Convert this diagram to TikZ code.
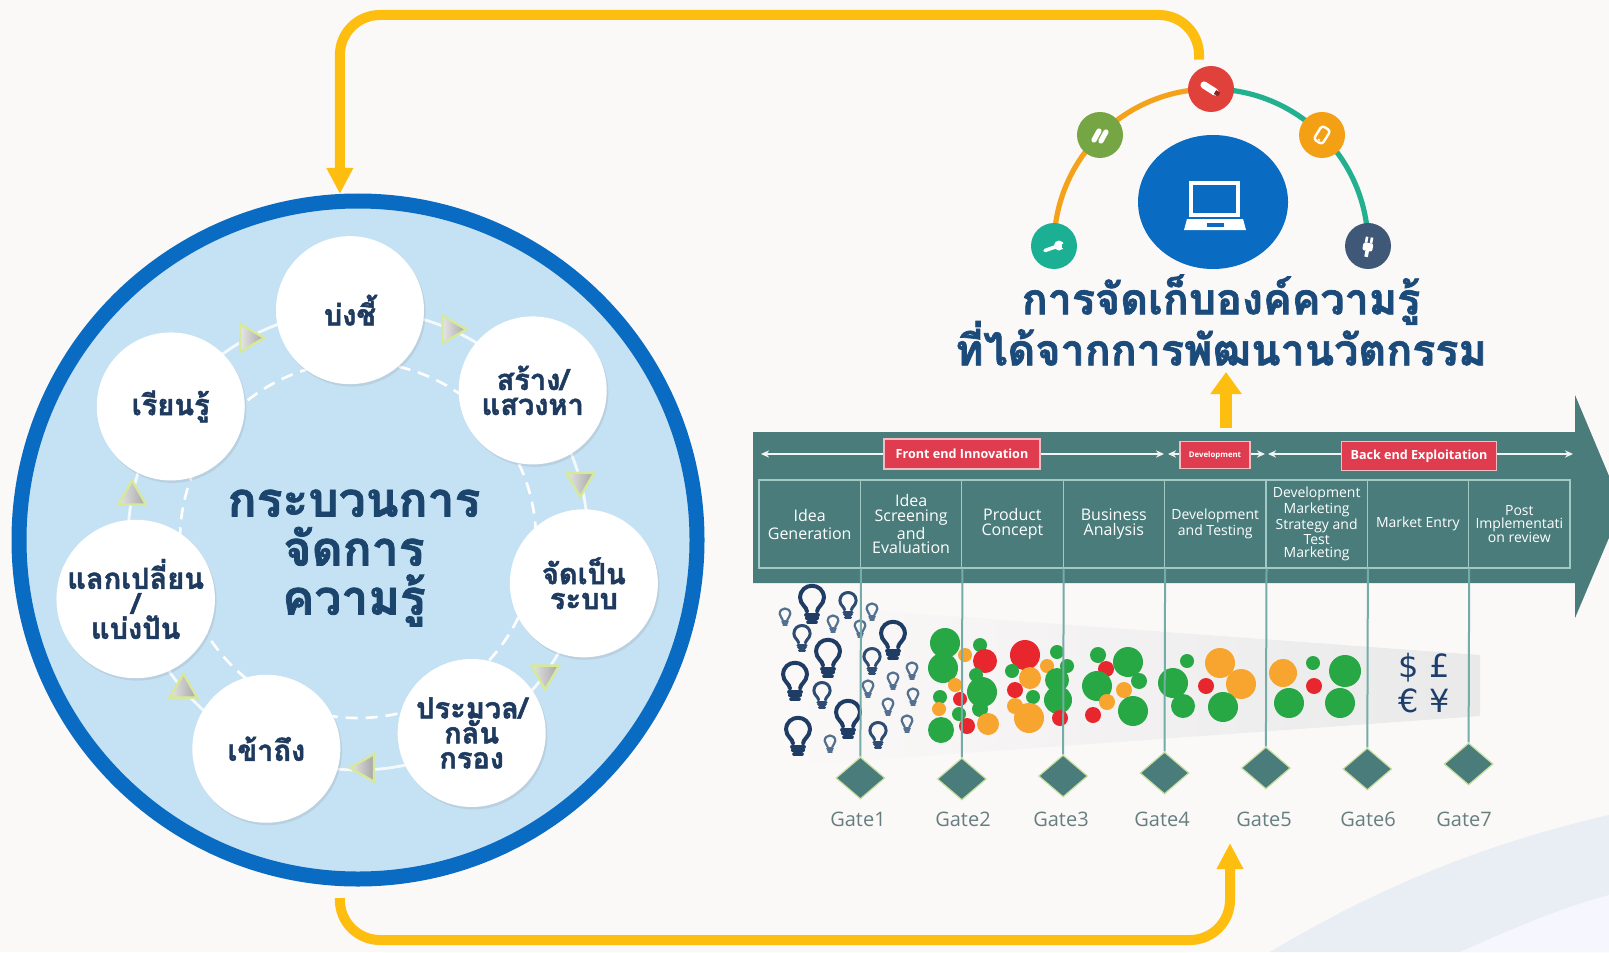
\documentclass[tikz,border=0pt]{standalone}
\usepackage{fontspec}
\usetikzlibrary{arrows.meta,calc,shapes.geometric,shadows}
\newfontfamily\thaifont[Script=Thai, BoldFeatures={FakeBold=1.6}]{Loma}
\newfontfamily\tablefont{Open Sans}
\newfontfamily\symfont{DejaVu Sans}
% lets stacked Thai lines keep a fixed baseline distance despite tall marks
\newcommand{\kmtight}{\lineskiplimit=-30pt\relax}

\definecolor{pagebg}{HTML}{FBF8F8}
\definecolor{cornerblue}{HTML}{E8EEF4}
\definecolor{ringblue}{HTML}{0A6BC2}
\definecolor{discblue}{HTML}{C5E2F5}
\definecolor{bubtext}{HTML}{1E3A5F}
\definecolor{kmtext}{HTML}{1B456C}
\definecolor{titletext}{HTML}{1B4B7B}
\definecolor{gold}{HTML}{FDBE10}
\definecolor{bandteal}{HTML}{497C7B}
\definecolor{cellline}{HTML}{A3C9C5}
\definecolor{gateline}{HTML}{74ACA8}
\definecolor{diamrim}{HTML}{C8DFA0}
\definecolor{phasered}{HTML}{E03C4F}
\definecolor{gatetext}{HTML}{667E80}
\definecolor{dotgreen}{HTML}{28A745}
\definecolor{dotred}{HTML}{E8262E}
\definecolor{dotorange}{HTML}{F7A52F}
\definecolor{arcorange}{HTML}{F4A21A}
\definecolor{arcteal}{HTML}{22B08F}
\definecolor{icteal}{HTML}{1BB094}
\definecolor{icgreen}{HTML}{76A544}
\definecolor{icred}{HTML}{E0413A}
\definecolor{icorange}{HTML}{F4A015}
\definecolor{icslate}{HTML}{3F5877}
\definecolor{bulbdark}{HTML}{1F3C64}
\definecolor{bulbmid}{HTML}{2E4C72}
\definecolor{bulblight}{HTML}{52708F}
\definecolor{moneyblue}{HTML}{1D3D6B}
\definecolor{markrim}{HTML}{D6E89A}

\pgfdeclarelayer{bg}
\pgfdeclarelayer{back}
\pgfsetlayers{bg,back,main}

\tikzset{
  goldconn/.style={draw=gold, line width=5pt},
  bubble/.style={circle, fill=white, minimum size=74pt, inner sep=0pt, align=center,
    text=bubtext, font=\thaifont\bfseries\fontsize{14.5}{12.5}\selectfont\kmtight,
    drop shadow={shadow xshift=0.8pt, shadow yshift=-1.2pt, opacity=0.18}},
  flowmark/.style={isosceles triangle, isosceles triangle apex angle=60, inner sep=0pt,
    minimum height=12pt, minimum width=13pt, draw=markrim, line width=1.2pt,
    left color=gray!20, right color=gray!70},
  icon/.style={circle, minimum size=23pt, inner sep=0pt},
  phasebox/.style={rectangle, fill=phasered, draw=phasered!35!white, line width=0.8pt,
    inner sep=0pt, text=white, font=\tablefont\bfseries\fontsize{6.3}{7}\selectfont},
  phasearrow/.style={draw=white!92!bandteal, line width=0.8pt,
    {Stealth[length=4pt,width=3.6pt]}-{Stealth[length=4pt,width=3.6pt]}},
  cell/.style={rectangle, draw=cellline, line width=0.6pt, minimum width=50.69pt,
    minimum height=44pt, inner sep=0pt, text=white, align=center},
  bigtxt/.style={font=\tablefont\fontsize{8}{7.4}\selectfont},
  smalltxt/.style={font=\tablefont\fontsize{7}{6.6}\selectfont},
  gatemark/.style={diamond, fill=bandteal, draw=diamrim, line width=0.6pt,
    minimum width=24.5pt, minimum height=21pt, inner sep=0pt},
  gatelabel/.style={text=gatetext, font=\tablefont\fontsize{10}{12}\selectfont},
  gateln/.style={draw=gateline, line width=1pt},
  pics/bulb/.style={code={
    \draw[line width=#1, line cap=round, line join=round]
      (-6,5) .. controls (-6,0) and (-14,-3) .. (-14,-11)
      .. controls (-14,-20) and (-7,-25) .. (0,-25)
      .. controls (7,-25) and (14,-20) .. (14,-11)
      .. controls (14,-3) and (6,0) .. (6,5);
    \draw[line width=#1, line cap=round]
      (-7,9) -- (7,9) (-6,13.5) -- (6,13.5) (-4.5,18) -- (4.5,18);
  }}
}

\begin{document}
\begin{tikzpicture}[x=0.5pt,y=-0.5pt]
\useasboundingbox (0,0) rectangle (1609,952);
\clip (0,0) rectangle (1609,952);

% page background with the pale curved corner
\begin{pgfonlayer}{bg}
  \fill[pagebg] (0,0) rectangle (1609,952);
  \fill[cornerblue] (1270,952) .. controls (1390,880) and (1500,840) .. (1609,815) -- (1609,952) -- cycle;
  \fill[cornerblue!70!blue!10!white] (1460,952) .. controls (1520,925) and (1570,905) .. (1609,895) -- (1609,952) -- cycle;
\end{pgfonlayer}

% ---------------- knowledge management cycle ----------------
\node[circle, draw=ringblue, line width=7.5pt, fill=discblue, minimum size=339pt, inner sep=0pt] (kmring) at (358,540) {};
\coordinate (hub) at (358,540);
\draw[white, line width=1.3pt, dash pattern=on 6pt off 4pt] (hub) circle[radius=178];
\draw[white, opacity=0.8, line width=1.4pt] (hub) circle[radius=230];

\node[bubble] (identify) at ($(hub)+(-92:230)$) {บ่งชี้};
\node[bubble] (create)   at ($(hub)+(-40.57:230)$) {สร้าง/\\แสวงหา};
\node[bubble] (organize) at ($(hub)+(10.86:230)$) {จัดเป็น\\ระบบ};
\node[bubble] (refine)   at ($(hub)+(59.5:224)$) {ประมวล/\\กลั่น\\กรอง};
\node[bubble] (access)   at ($(hub)+(113.71:228)$) {เข้าถึง};
\node[bubble] (share)    at ($(hub)+(165.14:230)$) {แลกเปลี่ยน\\/\\แบ่งปัน};
\node[bubble] (learn)    at ($(hub)+(-144.5:230)$) {เรียนรู้};

\node[flowmark, shape border rotate=-23.7]  (fm1) at ($(hub)+(-66.3:230)$) {};
\node[flowmark, shape border rotate=-75.1]  (fm2) at ($(hub)+(-14.9:230)$) {};
\node[flowmark, shape border rotate=-126.6] (fm3) at ($(hub)+(35.5:230)$) {};
\node[flowmark, shape border rotate=-178]   (fm4) at ($(hub)+(88:228)$) {};
\node[flowmark, shape border rotate=130.6]  (fm5) at ($(hub)+(139.4:230)$) {};
\node[flowmark, shape border rotate=79.1]   (fm6) at ($(hub)+(-169.1:230)$) {};
\node[flowmark, shape border rotate=27.7]   (fm7) at ($(hub)+(-118.5:230)$) {};

\node[align=center, text=kmtext, inner sep=0pt,
  font=\thaifont\bfseries\fontsize{24}{24.5}\selectfont\kmtight] (kmtitle) at (354,558)
  {กระบวนการ\\จัดการ\\ความรู้};

% ---------------- knowledge store (top right) ----------------
\coordinate (archub) at (1211,246);
\node[icon, fill=icteal]   (iwrench) at ($(archub)+(180:157)$) {};
\node[icon, fill=icgreen]  (itape)   at ($(archub)+(-135:157)$) {};
\node[icon, fill=icred]    (ired)    at ($(archub)+(-90:157)$) {};
\node[icon, fill=icorange] (iphone)  at ($(archub)+(-45:157)$) {};
\node[icon, fill=icslate]  (iplug)   at ($(archub)+(0:157)$) {};
\begin{pgfonlayer}{back}
  \draw[arcorange, line width=2.6pt] (iwrench.center) arc[start angle=180, end angle=270, radius=157];
  \draw[arcteal, line width=2.6pt] (ired.center) arc[start angle=270, end angle=360, radius=157];
\end{pgfonlayer}

% icon glyphs
\begin{scope}[shift={(iwrench.center)}]
  \draw[white, line width=1.8pt, line cap=round] (-9,4.5) -- (1,1);
  \fill[white] (5,-0.5) circle[radius=5];
  \fill[icteal] (7.5,-2.5) rectangle (11,1.5);
\end{scope}
\begin{scope}[shift={(itape.center)}]
  \draw[white, line width=2.6pt, line cap=round] (-6,5) -- (-1,-4);
  \draw[white, line width=2.6pt, line cap=round] (1,6) -- (6,-3);
\end{scope}
\begin{scope}[shift={(ired.center)}]
  \draw[white, line width=3.6pt, line cap=round] (-7,-4) -- (4,3);
  \draw[icred!60!black, line width=2.2pt] (4,3) -- (8,5.5);
\end{scope}
\begin{scope}[shift={(iphone.center)}]
  \draw[white, line width=1.2pt, rounded corners=1.5pt, rotate=-32] (-5,-8) rectangle (5,8);
  \fill[white, rotate=-32] (-1.2,5) rectangle (1.2,6.2);
\end{scope}
\begin{scope}[shift={(iplug.center)}, rotate=-10]
  \fill[white, rounded corners=1pt] (-5,-3) rectangle (5,5);
  \draw[white, line width=1.3pt] (-2.5,-3) -- (-2.5,-9) (2.5,-3) -- (2.5,-9);
  \draw[white, line width=1.8pt] (0,5) -- (0,11);
\end{scope}

% central laptop disc
\node[ellipse, fill=ringblue, minimum width=75pt, minimum height=67pt, inner sep=0pt] (laptopdisc) at (1213,202) {};
\begin{scope}[shift={(laptopdisc.center)}]
  \draw[white, line width=2pt] (-22,-19) rectangle (25,13);
  \fill[white] (-26,17) -- (30,17) -- (33,28) -- (-29,28) -- cycle;
  \fill[ringblue] (-6,21) rectangle (11,24.5);
\end{scope}

\node[align=center, text=titletext, inner sep=0pt,
  font=\thaifont\bfseries\fontsize{21.5}{25.5}\selectfont\kmtight] (storetitle) at (1221,320)
  {การจัดเก็บองค์ความรู้\\ที่ได้จากการพัฒนานวัตกรรม};

% ---------------- stage-gate process ----------------
\fill[bandteal] (753,432) -- (1575,432) -- (1575,395) -- (1622,507) -- (1575,618)
  -- (1575,583) -- (753,583) -- cycle;

\coordinate (fe1) at (761,454);  \coordinate (fe2) at (1164,454);
\coordinate (dv1) at (1168,454); \coordinate (dv2) at (1265,454);
\coordinate (be1) at (1268,454); \coordinate (be2) at (1573,454);
\draw[phasearrow] (fe1) -- (fe2);
\draw[phasearrow] (dv1) -- (dv2);
\draw[phasearrow] (be1) -- (be2);
\node[phasebox, minimum width=78pt, minimum height=15pt] (frontend) at (962,454) {Front end Innovation};
\node[phasebox, minimum width=35pt, minimum height=13.5pt, font=\tablefont\bfseries\fontsize{3.9}{4.5}\selectfont] (devphase) at (1215,455) {Development};
\node[phasebox, minimum width=77.5pt, minimum height=14.5pt] (backend) at (1419,456) {Back end Exploitation};

\node[cell, bigtxt, font=\tablefont\fontsize{8}{9}\selectfont] (c1) at (809.7,524) {Idea\\Generation};
\node[cell, bigtxt] (c2) at (911.1,524) {Idea\\Screening\\and\\Evaluation};
\node[cell, bigtxt] (c3) at (1012.4,524) {Product\\Concept};
\node[cell, bigtxt] (c4) at (1113.8,524) {Business\\Analysis};
\node[cell, smalltxt] (c5) at (1215.2,524) {Development\\and Testing};
\node[cell, smalltxt, font=\tablefont\fontsize{7}{6.45}\selectfont] (c6) at (1316.6,524) {Development\\Marketing\\Strategy and\\Test\\Marketing};
\node[cell, smalltxt] (c7) at (1417.9,524) {Market Entry};
\node[cell, smalltxt, font=\tablefont\fontsize{7}{6.9}\selectfont] (c8) at (1519.3,524) {Post\\Implementati\\on review};

% idea funnel
\shade[left color=pagebg, middle color=gray!30, right color=gray!17]
  (785,604) -- (1480,655) -- (1480,716) -- (785,766) -- cycle;

\foreach \x/\y/\r/\c in {
  945/643/15/dotgreen, 980/645/7/dotgreen, 965/655/7/dotorange, 985/661/12/dotred,
  943/668/15/dotgreen, 976/675/7/dotgreen, 955/685/7/dotorange, 982/692/15/dotgreen,
  940/697/7/dotgreen, 960/699/7/dotred, 939/709/7/dotorange, 980/709/8/dotgreen,
  959/714/7/dotgreen, 941/730/13/dotgreen, 967/726/8/dotred, 988/724/11/dotorange,
  1025/655/15/dotred, 1057/652/7/dotgreen, 1047/666/7/dotorange, 1012/671/7/dotgreen,
  1067/666/7/dotgreen, 1030/678/11/dotorange, 1057/680/12/dotgreen, 1015/690/8/dotred,
  1033/697/7/dotgreen, 1058/700/14/dotgreen, 1015/706/8/dotorange, 1029/718/15/dotorange,
  1060/718/8/dotred,
  1098/655/8/dotgreen, 1128/662/15/dotgreen, 1106/669/8/dotred, 1139/681/8/dotgreen,
  1097/686/15/dotgreen, 1124/690/8/dotorange, 1107/702/8/dotorange, 1133/711/15/dotgreen,
  1093/715/8/dotred,
  1187/661/7/dotgreen, 1173/683/15/dotgreen, 1183/706/12/dotgreen, 1220/663/15/dotorange,
  1206/686/8/dotred, 1241/684/15/dotorange, 1223/707/15/dotgreen,
  1283/673/14/dotorange, 1313/663/7/dotgreen, 1314/686/8/dotred, 1345/671/16/dotgreen,
  1289/703/15/dotgreen, 1340/703/15/dotgreen}
  \fill[\c] (\x,\y) circle[radius=\r];

\foreach \x/\y in {812/607, 828/661, 795/684, 848/722, 798/739, 893/643}
  \pic[bulbdark, scale=0.85] at (\x,\y) {bulb=2pt};
\foreach \x/\y in {848/607, 802/640, 872/663, 822/697, 878/737}
  \pic[bulbmid, scale=0.58] at (\x,\y) {bulb=1.5pt};
\foreach \x/\y in {785/618, 833/625, 860/630, 872/613, 912/672, 893/682, 868/690,
  913/698, 888/708, 907/725, 830/745}
  \pic[bulblight, scale=0.38] at (\x,\y) {bulb=1.1pt};

\node[text=moneyblue, font=\symfont\fontsize{16}{16}\selectfont, inner sep=0pt] (money1) at (1424,668) {\$\hspace{5pt}£};
\node[text=moneyblue, font=\symfont\fontsize{16}{16}\selectfont, inner sep=0pt] (money2) at (1424,701) {€\hspace{5pt}¥};

% gates
\node[gatemark] (g1) at (860.4,778) {};
\node[gatemark] (g2) at (961.8,779) {};
\node[gatemark] (g3) at (1063.1,776) {};
\node[gatemark] (g4) at (1164.5,773) {};
\node[gatemark] (g5) at (1265.9,768) {};
\node[gatemark] (g6) at (1367.3,769) {};
\node[gatemark] (g7) at (1468.6,764) {};
\draw[gateln] (c1.south east) -- (g1.north);
\draw[gateln] (c2.south east) -- (g2.north);
\draw[gateln] (c3.south east) -- (g3.north);
\draw[gateln] (c4.south east) -- (g4.north);
\draw[gateln] (c5.south east) -- (g5.north);
\draw[gateln] (c6.south east) -- (g6.north);
\draw[gateln] (c7.south east) -- (g7.north);
\node[gatelabel] (gl1) at (858,819) {Gate1};
\node[gatelabel] (gl2) at (963,819) {Gate2};
\node[gatelabel] (gl3) at (1061,819) {Gate3};
\node[gatelabel] (gl4) at (1162,819) {Gate4};
\node[gatelabel] (gl5) at (1264,819) {Gate5};
\node[gatelabel] (gl6) at (1368,819) {Gate6};
\node[gatelabel] (gl7) at (1464,819) {Gate7};

% ---------------- yellow flow connectors ----------------
\coordinate (toprail) at (0,15);
\coordinate (botrail) at (0,940);
\coordinate (sgentry) at (1230,843);
\coordinate (sgtop) at (1226,428);
\coordinate (titlefoot) at (1226,372);
\draw[goldconn, rounded corners=20pt, -{Triangle[length=13pt,width=12.5pt]}]
  ([shift={(-12,-6)}]ired.north) |- (toprail -| kmring.93) -- (kmring.93);
\draw[goldconn, rounded corners=20pt, shorten <=6pt, -{Triangle[length=13pt,width=12.5pt]}]
  (kmring.267) |- (botrail -| sgentry) -- (sgentry);
\draw[draw=gold, line width=6pt, -{Triangle[length=11pt,width=15pt]}] (sgtop) -- (titlefoot);

\end{tikzpicture}
\end{document}
